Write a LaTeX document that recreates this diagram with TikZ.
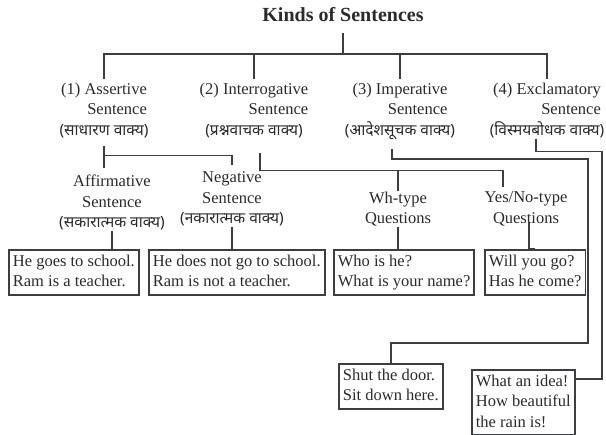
\documentclass[tikz,border=0pt]{standalone}
\usepackage{fontspec}
\setmainfont{Liberation Serif}
\newfontfamily\hindi[Script=Devanagari]{Noto Sans}

\definecolor{ink}{HTML}{3B3F44}
\definecolor{print}{HTML}{2B2B2B}

\newcommand{\nodefont}{\fontsize{16.5}{20.5}\selectfont\lineskiplimit=-20pt\relax}

\begin{document}
\begin{tikzpicture}
	[
		x = 1pt, y = -1pt, line width = 1.8pt, color = ink,
		every node/.style = {text=print, font=\nodefont, inner sep=0pt},
		kind/.style = {anchor=north, align=center},
		sub/.style = {anchor=north, align=center},
		example/.style = {draw=ink, anchor=north west, align=left, inner xsep=4pt, inner ysep=5pt, text depth=3pt}
	]
	
	\useasboundingbox (0, 0) rectangle (606, 435);
	
	\newcommand{\hi}[1]{{\hindi\fontsize{15.5}{20.5}\selectfont #1}}
	\newcommand{\kind}[4]{\node [kind] (#1) at (#2, 79) {\begin{tabular}[b]{@{}r@{}}#3\\Sentence\end{tabular}\\\hi{#4}}; }
	
	\node [font=\fontsize{20}{24}\selectfont\bfseries] (title) at (343, 15) {Kinds of Sentences};
	\coordinate (bar) at (343, 54);
	\draw ([yshift=-10pt]title.south) -- (bar);
	
	\kind{assertive}{104}{(1) Assertive}{(साधारण वाक्य)}
	\kind{interrogative}{254}{(2) Interrogative}{(प्रश्नवाचक वाक्य)}
	\kind{imperative}{400}{(3) Imperative}{(आदेशसूचक वाक्य)}
	\kind{exclamatory}{547}{(4) Exclamatory}{(विस्मयबोधक वाक्य)}
	
	\foreach \k in {assertive, interrogative, imperative, exclamatory} { \draw (bar) -| (\k.north); }
	
	\node [sub] (affirmative) at (112, 174) {Affirmative\\Sentence\\\hi{(सकारात्मक वाक्य)}};
	\node [sub] (negative) at (232, 171) {Negative\\Sentence\\\hi{(नकारात्मक वाक्य)}};
	\node [sub] (whtype) at (398, 191) {Wh-type\\Questions};
	\node [sub] (yesno) at (526, 191) {Yes/No-type\\Questions};
	
	\node [example] (exAff) at (8, 249) {He goes to school.\\Ram is a teacher.};
	\node [example] (exNeg) at (148, 249) {He does not go to school.\\Ram is not a teacher.};
	\node [example] (exWh) at (333, 249) {Who is he?\\What is your name?};
	\node [example] (exYes) at (484, 249) {Will you go?\\Has he come?};
	\node [example] (exImp) at (338, 363) {Shut the door.\\Sit down here.};
	\node [example] (exExc) at (471, 369) {What an idea!\\How beautiful\\the rain is!};
	
	% assertive
	\draw ([yshift=-7pt]assertive.south) -- ++(0, 22);
	\draw ([yshift=-17pt]assertive.south) -| ([yshift=6pt]negative.north);
	\draw (affirmative.south) -- (affirmative.south |- exAff.north);
	\draw (negative.south) -- (negative.south |- exNeg.north);
	
	% interrogative
	\draw ([xshift=6pt, yshift=-14pt]interrogative.south) -- ++(0, 18) coordinate (ibar) -| ([xshift=-23pt, yshift=4pt]yesno.north);
	\draw (ibar -| whtype.north) -- (whtype.north);
	\draw (whtype.south) -- (whtype.south |- exWh.north);
	\draw ([xshift=3pt, yshift=5pt]yesno.south) |- (exYes.north);
	
	% imperative
	\coordinate (impturn) at (588, 343);
	\draw ([xshift=-8pt, yshift=-9pt]imperative.south) -- ++(0, 10) -| (impturn) -| (exImp.north);
	
	% exclamatory
	\coordinate (excturn) at (602, 379);
	\draw ([xshift=-11pt]exclamatory.south) -- ++(0, 13) -| (excturn) -- (excturn -| exExc.east);
\end{tikzpicture}
\end{document}
